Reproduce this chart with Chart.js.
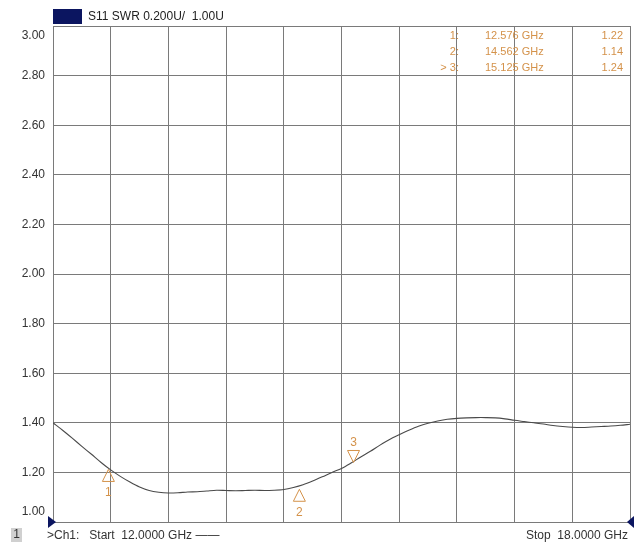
<!DOCTYPE html>
<html>
<head>
<meta charset="utf-8">
<script src="https://cdn.jsdelivr.net/npm/chart.js@4.4.1/dist/chart.umd.min.js"></script>
<style>
  html, body { margin: 0; padding: 0; background: #fff; }
  #wrap { width: 634px; height: 544px; position: relative; }
</style>
</head>
<body>
<div id="wrap"><canvas id="swr_chart" width="634" height="544"></canvas></div>
<script>
// 周波数 (GHz)
const freqs = [
  12.0, 12.1, 12.2, 12.3, 12.4, 12.5, 12.6, 12.7, 12.8, 12.9,
  13.0, 13.1, 13.2, 13.3, 13.4, 13.5, 13.6, 13.7, 13.8, 13.9,
  14.0, 14.1, 14.2, 14.3, 14.4, 14.5, 14.6, 14.7, 14.8, 14.9,
  15.0, 15.1, 15.2, 15.3, 15.4, 15.5, 15.6, 15.7, 15.8, 15.9,
  16.0, 16.1, 16.2, 16.3, 16.4, 16.5, 16.6, 16.7, 16.8, 16.9,
  17.0, 17.1, 17.2, 17.3, 17.4, 17.5, 17.6, 17.7, 17.8, 17.9, 18.0
];
// S11 SWR
const swr = [
  1.400, 1.370, 1.338, 1.305, 1.273, 1.240, 1.210, 1.184, 1.161, 1.141,
  1.127, 1.120, 1.117, 1.118, 1.121, 1.122, 1.125, 1.128, 1.127, 1.126,
  1.127, 1.128, 1.127, 1.128, 1.131, 1.139, 1.150, 1.165, 1.182, 1.200,
  1.216, 1.238, 1.262, 1.285, 1.310, 1.333, 1.352, 1.370, 1.386, 1.398,
  1.407, 1.414, 1.418, 1.420, 1.421, 1.421, 1.420, 1.416, 1.410, 1.405,
  1.400, 1.395, 1.389, 1.385, 1.382, 1.381, 1.383, 1.385, 1.387, 1.390, 1.394
];
// 縦軸ラベル
const yTicks = [3.00, 2.80, 2.60, 2.40, 2.20, 2.00, 1.80, 1.60, 1.40, 1.20, 1.00];
// 横軸の目盛り (10分割)
const xTicks = [12.0, 12.6, 13.2, 13.8, 14.4, 15.0, 15.6, 16.2, 16.8, 17.4, 18.0];
// マーカー
const markerNames = ['1', '2', '3'];
const markerFreqs = [12.576, 14.562, 15.125];
const markerValues = [1.22, 1.14, 1.24];

const FONT = "'Liberation Sans', Arial, sans-serif";
const MARKER_COLOR = '#d4924a';

// 目盛りラベル・ヘッダ・マーカーを描画
const overlay = {
  id: 'overlay',
  afterDraw(chart) {
    const ctx = chart.ctx;
    const xs = chart.scales.x;
    const ys = chart.scales.y;
    const area = chart.chartArea;
    ctx.save();

    // 縦軸ラベル
    ctx.font = '12px ' + FONT;
    ctx.fillStyle = '#333';
    ctx.textAlign = 'right';
    ctx.textBaseline = 'middle';
    yTicks.forEach(function(v, i) {
      let y = ys.getPixelForValue(v);
      if (i === 0) y += 10;
      if (i === yTicks.length - 1) y -= 10;
      ctx.fillText(v.toFixed(2), area.left - 8, y);
    });

    // ヘッダ
    ctx.fillStyle = '#0b1560';
    ctx.fillRect(area.left, 9, 29, 15);
    ctx.fillStyle = '#222';
    ctx.textAlign = 'left';
    ctx.font = '12px ' + FONT;
    ctx.fillText('S11 SWR 0.200U/  1.00U', area.left + 35, 17);

    // マーカー一覧
    ctx.font = '11px ' + FONT;
    ctx.fillStyle = MARKER_COLOR;
    markerNames.forEach(function(name, i) {
      const y = 36 + i * 16;
      ctx.textAlign = 'right';
      ctx.fillText((i === 2 ? '> ' : '') + name + ':', 459, y);
      ctx.textAlign = 'left';
      ctx.fillText(markerFreqs[i].toFixed(3) + ' GHz', 485, y);
      ctx.textAlign = 'right';
      ctx.fillText(markerValues[i].toFixed(2), 623, y);
    });

    // マーカー三角形
    ctx.strokeStyle = MARKER_COLOR;
    ctx.lineWidth = 1;
    ctx.font = '12px ' + FONT;
    ctx.textAlign = 'center';
    markerNames.forEach(function(name, i) {
      const x = xs.getPixelForValue(markerFreqs[i]);
      const y = ys.getPixelForValue(markerValues[i]);
      ctx.beginPath();
      if (i === 2) {
        ctx.moveTo(x, y);
        ctx.lineTo(x - 6, y - 12);
        ctx.lineTo(x + 6, y - 12);
        ctx.closePath();
        ctx.stroke();
        ctx.fillText(name, x, y - 20);
      } else {
        ctx.moveTo(x, y + 2);
        ctx.lineTo(x - 6, y + 14);
        ctx.lineTo(x + 6, y + 14);
        ctx.closePath();
        ctx.stroke();
        ctx.fillText(name, x, y + 25);
      }
    });

    // 左下・右下の小さな三角
    ctx.fillStyle = '#0b1560';
    ctx.beginPath();
    ctx.moveTo(area.left - 5, area.bottom - 6);
    ctx.lineTo(area.left + 3, area.bottom);
    ctx.lineTo(area.left - 5, area.bottom + 6);
    ctx.fill();
    ctx.beginPath();
    ctx.moveTo(area.right + 4, area.bottom - 6);
    ctx.lineTo(area.right - 3, area.bottom);
    ctx.lineTo(area.right + 4, area.bottom + 6);
    ctx.fill();

    // 下部ステータス
    ctx.fillStyle = '#d0d0d0';
    ctx.fillRect(11, 528, 11, 14);
    ctx.fillStyle = '#333';
    ctx.font = '12px ' + FONT;
    ctx.textAlign = 'center';
    ctx.fillText('1', 16.5, 535);
    ctx.textAlign = 'left';
    ctx.fillText('>Ch1:   Start  12.0000 GHz \u2014\u2014', 47, 536);
    ctx.textAlign = 'right';
    ctx.fillText('Stop  18.0000 GHz', 628, 536);
    ctx.restore();
  }
};

const ctx = document.getElementById('swr_chart').getContext('2d');
new Chart(ctx, {
  type: 'line',
  data: {
    datasets: [{
      data: freqs.map(function(f, i) { return { x: f, y: swr[i] }; }),
      borderColor: '#4a4a4a',
      borderWidth: 1.1,
      pointRadius: 0,
      tension: 0.3,
      fill: false
    }]
  },
  options: {
    responsive: false,
    animation: false,
    layout: { padding: { left: 53, right: 4, top: 26, bottom: 22 } },
    plugins: { legend: { display: false }, tooltip: { enabled: false } },
    scales: {
      x: {
        type: 'linear',
        min: 12, max: 18,
        afterBuildTicks: function(scale) {
          scale.ticks = xTicks.map(function(v) { return { value: v }; });
        },
        ticks: { display: false },
        grid: { color: '#7a7a7a', lineWidth: 1, drawTicks: false },
        border: { color: '#7a7a7a' }
      },
      y: {
        min: 1, max: 3,
        afterBuildTicks: function(scale) {
          scale.ticks = yTicks.map(function(v) { return { value: v }; });
        },
        ticks: { display: false },
        grid: { color: '#7a7a7a', lineWidth: 1, drawTicks: false },
        border: { color: '#7a7a7a' }
      }
    }
  },
  plugins: [overlay]
});
</script>
</body>
</html>
